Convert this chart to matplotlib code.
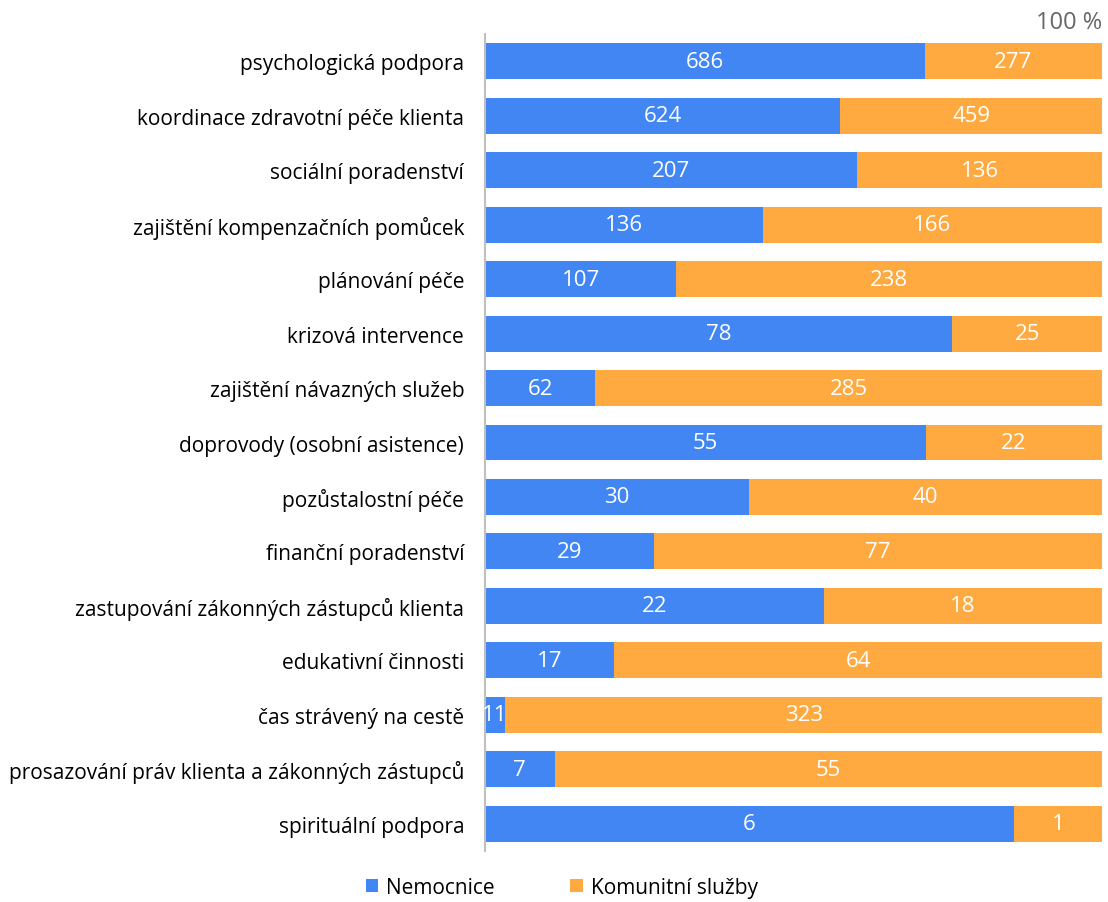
import matplotlib
matplotlib.use('Agg')
import matplotlib.pyplot as plt
import numpy as np

categories = [
    "psychologická podpora",
    "koordinace zdravotní péče klienta",
    "sociální poradenství",
    "zajištění kompenzačních pomůcek",
    "plánování péče",
    "krizová intervence",
    "zajištění návazných služeb",
    "doprovody (osobní asistence)",
    "pozůstalostní péče",
    "finanční poradenství",
    "zastupování zákonných zástupců klienta",
    "edukativní činnosti",
    "čas strávený na cestě",
    "prosazování práv klienta a zákonných zástupců",
    "spirituální podpora",
]
nemocnice = [686, 624, 207, 136, 107, 78, 62, 55, 30, 29, 22, 17, 11, 7, 6]
komunitni = [277, 459, 136, 166, 238, 25, 285, 22, 40, 77, 18, 64, 323, 55, 1]

BLUE = '#4286F4'
ORANGE = '#FFAA40'

plt.rcParams['font.family'] = ['Open Sans', 'DejaVu Sans']

nem = np.array(nemocnice, dtype=float)
kom = np.array(komunitni, dtype=float)
total = nem + kom
nem_pct = nem / total
kom_pct = kom / total

fig = plt.figure(figsize=(11.08, 9.03), dpi=100)
ax = fig.add_axes([0.4377, 0.0565, 0.5569, 0.9047])

y = np.arange(len(categories))
h = 0.66
b1 = ax.barh(y, nem_pct, height=h, color=BLUE, label='Nemocnice')
b2 = ax.barh(y, kom_pct, left=nem_pct, height=h, color=ORANGE, label='Komunitní služby')

for i in range(len(categories)):
    ax.text(nem_pct[i] / 2, y[i], str(nemocnice[i]), ha='center', va='center',
            color='white', fontsize=16)
    ax.text(nem_pct[i] + kom_pct[i] / 2, y[i], str(komunitni[i]), ha='center', va='center',
            color='white', fontsize=16)

ax.set_xlim(0, 1)
ax.set_ylim(len(categories) - 0.5, -0.5)
ax.set_yticks(y)
ax.set_yticklabels(categories, fontsize=15)
ax.tick_params(axis='y', length=0, pad=15)
ax.set_xticks([])
for s in ['top', 'right', 'bottom']:
    ax.spines[s].set_visible(False)
ax.spines['left'].set_color('#BFBFBF')
ax.spines['left'].set_linewidth(1.5)

fig.text(0.995, 0.975, '100 %', ha='right', va='center', fontsize=17, color='#666666')

fig.legend(handles=[b1, b2], loc='center', bbox_to_anchor=(0.507, 0.016), ncol=2,
           frameon=False, fontsize=15, handlelength=0.6, handleheight=0.6,
           columnspacing=3.6, handletextpad=0.4)

fig.savefig('out.png', dpi=100)
